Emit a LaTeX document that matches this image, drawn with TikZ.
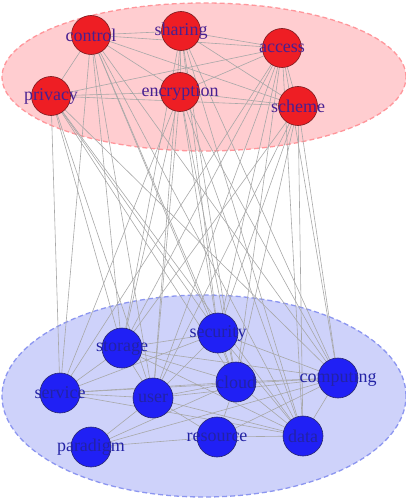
\documentclass[tikz,border=0pt]{standalone}
\usepackage{fontspec}
\setmainfont{Liberation Serif}
\usetikzlibrary{backgrounds,shapes.geometric}
\pgfdeclarelayer{bg}
\pgfdeclarelayer{edges}
\pgfsetlayers{bg,edges,main}
\definecolor{redfill}{RGB}{238,30,36}
\definecolor{redline}{RGB}{120,25,30}
\definecolor{bluefill}{RGB}{32,32,245}
\definecolor{blueline}{RGB}{40,40,110}
\definecolor{rlblcol}{RGB}{72,32,145}
\definecolor{blblcol}{RGB}{35,35,165}
\definecolor{edgecol}{RGB}{168,168,168}
\definecolor{pinkfill}{RGB}{255,205,208}
\definecolor{pinkline}{RGB}{255,150,155}
\definecolor{lbluefill}{RGB}{206,210,250}
\definecolor{lblueline}{RGB}{140,150,240}
\tikzset{
  rnode/.style={circle,draw=redline,fill=redfill,line width=0.6pt,minimum size=39pt,inner sep=0pt},
  bnode/.style={circle,draw=blueline,fill=bluefill,line width=0.6pt,minimum size=40pt,inner sep=0pt},
  rlbl/.style={text=rlblcol,font=\fontsize{18}{20}\selectfont,inner sep=0pt},
  blbl/.style={text=blblcol,font=\fontsize{18}{20}\selectfont,inner sep=0pt},
  edge/.style={draw=edgecol,line width=0.6pt},
  redgroup/.style={draw=pinkline,fill=pinkfill,line width=1.3pt,dash pattern=on 5pt off 3pt},
  bluegroup/.style={draw=lblueline,fill=lbluefill,line width=1.3pt,dash pattern=on 5pt off 3pt}
}
\begin{document}
\begin{tikzpicture}[x=1pt,y=-1pt]
\useasboundingbox (0,0) rectangle (406,500);
\begin{pgfonlayer}{bg}
\node[redgroup,ellipse,minimum width=404pt,minimum height=148pt,inner sep=0pt] (topgroup) at (204,77) {};
\node[bluegroup,ellipse,minimum width=404pt,minimum height=202pt,inner sep=0pt] (botgroup) at (204,396) {};
\end{pgfonlayer}
% top nodes
\node[rnode] (control) at (91,35) {};
\node[rnode] (sharing) at (181,31) {};
\node[rnode] (access) at (282,48) {};
\node[rnode] (privacy) at (51,96) {};
\node[rnode] (encryption) at (180,92) {};
\node[rnode] (scheme) at (298,106) {};
% bottom nodes
\node[bnode] (security) at (218,333) {};
\node[bnode] (storage) at (122,348) {};
\node[bnode] (service) at (60,393) {};
\node[bnode] (user) at (153,398) {};
\node[bnode] (cloud) at (236,382) {};
\node[bnode] (computing) at (338,378) {};
\node[bnode] (paradigm) at (91,447) {};
\node[bnode] (resource) at (217,437) {};
\node[bnode] (data) at (303,436) {};
% labels
\foreach \n in {control,sharing,access,privacy,encryption,scheme}
  \node[rlbl] (l-\n) at (\n) {\n};
\foreach \n in {security,storage,service,user,cloud,computing,paradigm,resource,data}
  \node[blbl] (l-\n) at (\n) {\n};
\begin{pgfonlayer}{edges}
% top internal
\foreach \a/\b in {control/sharing,control/access,control/privacy,control/encryption,control/scheme,
  sharing/access,sharing/encryption,sharing/scheme,privacy/encryption,privacy/access,privacy/scheme,
  encryption/access,encryption/scheme,access/scheme}
  \draw[edge] (\a.center) -- (\b.center);
% between groups
\foreach \a/\b in {privacy/service,privacy/storage,privacy/user,privacy/cloud,privacy/security,privacy/data,privacy/computing,
  control/service,control/storage,control/user,control/cloud,control/security,control/data,control/computing,
  sharing/storage,sharing/user,sharing/cloud,sharing/security,sharing/data,sharing/computing,
  access/service,access/storage,access/user,access/cloud,access/security,access/data,access/computing,
  encryption/storage,encryption/user,encryption/cloud,encryption/security,encryption/data,encryption/computing,encryption/service,
  scheme/user,scheme/cloud,scheme/security,scheme/data,scheme/computing,scheme/storage}
  \draw[edge] (\a.center) -- (\b.center);
% bottom internal
\foreach \a/\b in {service/storage,service/user,service/cloud,service/computing,service/data,service/security,
  storage/security,storage/cloud,storage/computing,storage/data,storage/user,
  user/cloud,user/computing,user/data,user/security,user/paradigm,user/resource,
  cloud/computing,cloud/data,cloud/security,cloud/paradigm,cloud/resource,
  security/computing,security/data,computing/data,computing/paradigm,computing/resource,
  paradigm/resource,resource/data}
  \draw[edge] (\a.center) -- (\b.center);
\end{pgfonlayer}
\end{tikzpicture}
\end{document}
